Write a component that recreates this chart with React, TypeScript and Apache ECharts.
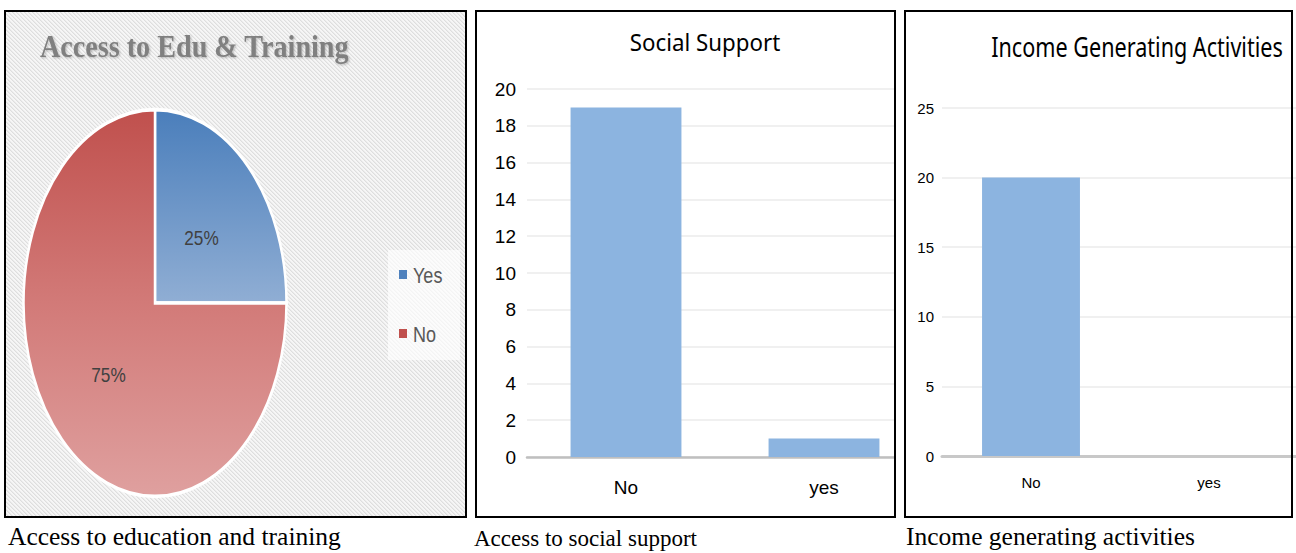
import React, { useEffect, useRef } from "react";
import * as echarts from "echarts";

// ---------- data ----------
const pieTitle = "Access to Edu & Training";
const pieCategories = ["Yes", "No"];
const pieValues = [25, 75];
const pieCaption = "Access to education and training";

const socialTitle = "Social Support";
const socialCategories = ["No", "yes"];
const socialValues = [19, 1];
const socialTicks = { min: 0, max: 20, interval: 2 };
const socialCaption = "Access to social support";

const incomeTitle = "Income Generating Activities";
const incomeCategories = ["No", "yes"];
const incomeValues = [20, 0];
const incomeTicks = { min: 0, max: 25, interval: 5 };
const incomeCaption = "Income generating activities";

// ---------- styles ----------
const SANS = "'Liberation Sans', Arial, sans-serif";
const SERIF = "'Liberation Serif', 'Times New Roman', serif";
const BAR_COLOR = "#8cb4e0";

function stripeURL(): string {
  const n = 4;
  const c = document.createElement("canvas");
  c.width = n;
  c.height = n;
  const ctx = c.getContext("2d")!;
  ctx.fillStyle = "#f6f6f6";
  ctx.fillRect(0, 0, n, n);
  for (let i = 0; i < n; i++) {
    ctx.fillStyle = "#dedede";
    ctx.fillRect(i, i, 1, 1);
    ctx.fillStyle = "#ebebeb";
    ctx.fillRect((i + 1) % n, i, 1, 1);
  }
  return c.toDataURL();
}

function Chart({ option, left, width, innerWidth }: { option: any; left: number; width: number; innerWidth: number }) {
  const ref = useRef<HTMLDivElement>(null);
  useEffect(() => {
    const chart = echarts.init(ref.current!, null, { renderer: "svg" });
    chart.setOption(option);
    return () => chart.dispose();
  }, [option]);
  return (
    <div style={{ position: "absolute", top: 0, left, width, height: 553, overflow: "hidden" }}>
      <div ref={ref} style={{ position: "absolute", top: 0, left: 0, width: innerWidth, height: 553 }} />
    </div>
  );
}

function border(x: number, y: number, w: number, h: number) {
  return {
    type: "rect",
    z: 100,
    shape: { x, y, width: w, height: h },
    style: { fill: "none", stroke: "#000", lineWidth: 2 },
    silent: true,
  };
}

function caption(text: string, x: number, y: number, size: number) {
  return {
    type: "text",
    x,
    y,
    style: { text, fill: "#000", font: `${size}px ${SERIF}`, verticalAlign: "middle" },
    silent: true,
  };
}

// ---------- pie panel ----------
const CX = 155;
const CY = 303;
const R = 131.5;
const SY = 193.5 / 131.5;
const pieGradients = [
  [
    { offset: 0, color: "#4a7ebb" },
    { offset: 0.5, color: "#90aed4" },
    { offset: 1, color: "#b9cde5" },
  ],
  [
    { offset: 0, color: "#c0504d" },
    { offset: 0.5, color: "#d27a78" },
    { offset: 1, color: "#dfa09f" },
  ],
];
const legendColors = ["#4f81bd", "#c0504d"];
const pieTotal = pieValues.reduce((a, b) => a + b, 0);

function buildPieOption() {
  const stripes = stripeURL();
  return {
    animation: false,
    graphic: [
      {
        type: "rect",
        z: -10,
        shape: { x: 5, y: 11, width: 461, height: 506 },
        style: { fill: { image: stripes, repeat: "repeat", imageWidth: 4, imageHeight: 4 } },
        silent: true,
      },
      {
        type: "text",
        x: 40,
        y: 46,
        scaleX: 0.88,
        style: {
          text: pieTitle,
          fill: "#808080",
          font: `bold 32px ${SERIF}`,
          verticalAlign: "middle",
          textShadowColor: "rgba(0,0,0,0.25)",
          textShadowBlur: 2,
          textShadowOffsetX: 1,
          textShadowOffsetY: 1,
        },
        silent: true,
      },
      {
        type: "rect",
        shape: { x: 388, y: 250, width: 72, height: 110 },
        style: { fill: "rgba(255,255,255,0.65)" },
        silent: true,
      },
      ...pieCategories.flatMap((name, i) => [
        {
          type: "rect",
          shape: { x: 399, y: 270 + i * 59, width: 8, height: 9 },
          style: { fill: legendColors[i] },
          silent: true,
        },
        {
          type: "text",
          x: 413,
          y: 275 + i * 59,
          scaleX: 0.82,
          style: { text: name, fill: "#595959", font: `22px ${SANS}`, verticalAlign: "middle" },
          silent: true,
        },
      ]),
      border(5, 11, 461, 506),
      caption(pieCaption, 8, 536, 25.5),
    ],
    series: [
      {
        type: "custom",
        coordinateSystem: "none",
        silent: true,
        data: pieValues.map((v, i) => ({ name: pieCategories[i], value: v })),
        renderItem: (params: any, api: any) => {
          const i = params.dataIndex;
          let before = 0;
          for (let j = 0; j < i; j++) before += pieValues[j];
          const v = api.value(0);
          const start = -Math.PI / 2 + (before / pieTotal) * Math.PI * 2;
          const end = start + (v / pieTotal) * Math.PI * 2;
          const mid = (start + end) / 2;
          return {
            type: "group",
            children: [
              {
                type: "sector",
                x: CX,
                y: CY,
                scaleY: SY,
                shape: { cx: 0, cy: 0, r: R, r0: 0, startAngle: start, endAngle: end, clockwise: true },
                style: {
                  fill: new echarts.graphic.LinearGradient(0, -R, 0, R, pieGradients[i], true),
                  stroke: "#ffffff",
                  lineWidth: 2.5,
                  strokeNoScale: true,
                },
              },
              {
                type: "text",
                x: CX + Math.cos(mid) * R * 0.5,
                y: CY + Math.sin(mid) * R * SY * 0.5 + 3,
                scaleX: 0.82,
                style: {
                  text: Math.round((v / pieTotal) * 100) + "%",
                  fill: "#404040",
                  font: `21px ${SANS}`,
                  align: "center",
                  verticalAlign: "middle",
                },
              },
            ],
          };
        },
      },
    ],
  };
}

// ---------- bar panels ----------
function buildBarOption(cfg: {
  title: string;
  titleX: number;
  titleY: number;
  titleSize: number;
  titleFamily: string;
  titleScaleX: number;
  categories: string[];
  values: number[];
  ticks: { min: number; max: number; interval: number };
  grid: { left: number; top: number; width: number; height: number };
  labelSize: number;
  yMargin: number;
  xMargin: number;
  gap: string;
  axisColor: string;
  axisWidth: number;
  borderRect: [number, number, number, number];
  caption: [string, number, number, number];
}) {
  return {
    animation: false,
    grid: { ...cfg.grid, containLabel: false },
    xAxis: {
      type: "category",
      data: cfg.categories,
      axisTick: { show: false },
      axisLine: { lineStyle: { color: cfg.axisColor, width: cfg.axisWidth } },
      axisLabel: { fontSize: cfg.labelSize, fontFamily: SANS, color: "#000", margin: cfg.xMargin },
    },
    yAxis: {
      type: "value",
      min: cfg.ticks.min,
      max: cfg.ticks.max,
      interval: cfg.ticks.interval,
      axisLine: { show: false },
      axisTick: { show: false },
      axisLabel: { fontSize: cfg.labelSize, fontFamily: SANS, color: "#000", margin: cfg.yMargin },
      splitLine: { lineStyle: { color: "#ebebeb", width: 1.5 } },
    },
    series: [
      {
        type: "bar",
        data: cfg.values,
        barCategoryGap: cfg.gap,
        itemStyle: { color: BAR_COLOR },
        silent: true,
      },
    ],
    graphic: [
      {
        type: "text",
        x: cfg.titleX,
        y: cfg.titleY,
        scaleX: cfg.titleScaleX,
        style: {
          text: cfg.title,
          fill: "#000",
          fontSize: cfg.titleSize,
          fontFamily: cfg.titleFamily,
          align: "center",
          verticalAlign: "middle",
        },
        silent: true,
      },
      border(...cfg.borderRect),
      caption(...cfg.caption),
    ],
  };
}

const pieOption = buildPieOption();

const socialOption = buildBarOption({
  title: socialTitle,
  titleX: 235,
  titleY: 42,
  titleSize: 23,
  titleFamily: "'Noto Sans', sans-serif",
  titleScaleX: 0.97,
  categories: socialCategories,
  values: socialValues,
  ticks: socialTicks,
  grid: { left: 57, top: 89, width: 396, height: 368 },
  labelSize: 19,
  yMargin: 11,
  xMargin: 21,
  gap: "44%",
  axisColor: "#bfbfbf",
  axisWidth: 2.5,
  borderRect: [6, 11, 419, 506],
  caption: [socialCaption, 4, 538, 23],
});

const incomeOption = buildBarOption({
  title: incomeTitle,
  titleX: 237,
  titleY: 47,
  titleSize: 27,
  titleFamily: "'Noto Sans', sans-serif",
  titleScaleX: 0.8,
  categories: incomeCategories,
  values: incomeValues,
  ticks: incomeTicks,
  grid: { left: 42, top: 108, width: 356, height: 348 },
  labelSize: 15,
  yMargin: 8,
  xMargin: 19,
  gap: "45%",
  axisColor: "#c8c8c8",
  axisWidth: 3,
  borderRect: [5, 11, 387, 506],
  caption: [incomeCaption, 6, 536, 25.5],
});

export default function App() {
  return (
    <div style={{ position: "absolute", left: 0, top: 0, width: 1296, height: 553, background: "#fff" }}>
      <Chart option={pieOption} left={0} width={470} innerWidth={470} />
      <Chart option={socialOption} left={470} width={426} innerWidth={470} />
      <Chart option={incomeOption} left={900} width={396} innerWidth={420} />
    </div>
  );
}
